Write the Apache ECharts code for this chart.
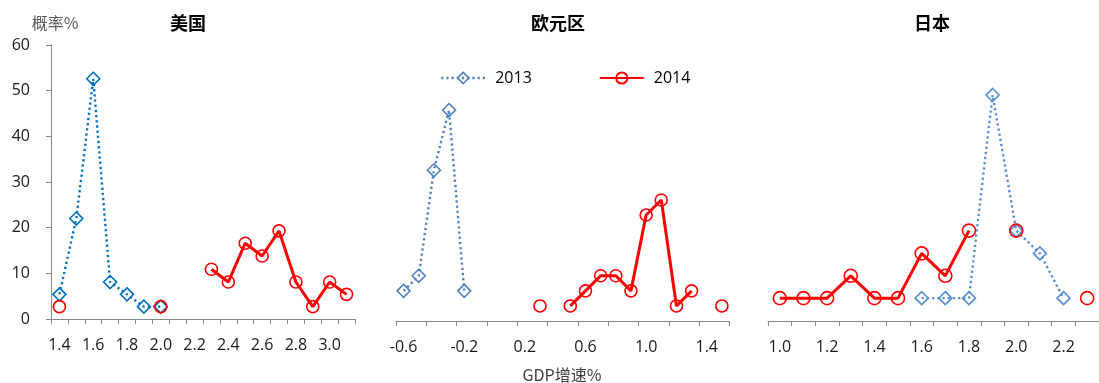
<!DOCTYPE html>
<html>
<head>
<meta charset="utf-8">
<script src="https://cdn.jsdelivr.net/npm/echarts@6/dist/echarts.min.js"></script>
<style>
  html, body { margin: 0; padding: 0; background: #fff; }
  #chart { width: 1099px; height: 383px; }
</style>
</head>
<body>
<div id="chart"></div>
<script>
// GDP 增速预测分布（概率%）
var usCategories = ['1.4','1.5','1.6','1.7','1.8','1.9','2.0','2.1','2.2','2.3','2.4','2.5','2.6','2.7','2.8','2.9','3.0','3.1'];
var us2013 = [5.4, 22.0, 52.6, 8.1, 5.4, 2.7, 2.7, null, null, null, null, null, null, null, null, null, null, null];
var us2014 = [2.7, null, null, null, null, null, 2.7, null, null, 10.9, 8.1, 16.6, 13.8, 19.3, 8.1, 2.7, 8.1, 5.4];

var euCategories = ['-0.6','-0.5','-0.4','-0.3','-0.2','-0.1','0.0','0.1','0.2','0.3','0.4','0.5','0.6','0.7','0.8','0.9','1.0','1.1','1.2','1.3','1.4','1.5'];
var eu2013 = [6.6, 9.9, 33.0, 46.2, 6.6, null, null, null, null, null, null, null, null, null, null, null, null, null, null, null, null, null];
var eu2014 = [null, null, null, null, null, null, null, null, null, 3.3, null, 3.3, 6.6, 9.9, 9.9, 6.6, 23.2, 26.5, 3.3, 6.6, null, 3.3];

var jpCategories = ['1.0','1.1','1.2','1.3','1.4','1.5','1.6','1.7','1.8','1.9','2.0','2.1','2.2','2.3'];
var jp2013 = [null, null, null, null, null, null, 5.0, 5.0, 5.0, 49.5, 19.8, 14.8, 5.0, null];
var jp2014 = [5.0, 5.0, 5.0, 9.9, 5.0, 5.0, 14.8, 9.9, 19.8, null, 19.8, null, null, 5.0];

var yTicks = [0, 10, 20, 30, 40, 50, 60];

var RED = '#FF0000';
var FONT = '"Open Sans", "Noto Sans CJK SC", sans-serif';
var CJK = '"Noto Sans CJK SC", sans-serif';
var AXIS_GRAY = '#868686';
var DOTS = [2.2, 3];

function xAxisFor(gridIndex, cats, labelInterval, tickInterval) {
  return {
    type: 'category', gridIndex: gridIndex, data: cats, boundaryGap: true,
    axisLine: { show: true, lineStyle: { color: AXIS_GRAY, width: 1 } },
    axisTick: { show: true, interval: tickInterval, length: 5, lineStyle: { color: AXIS_GRAY } },
    axisLabel: { interval: labelInterval, margin: 18, fontFamily: FONT, fontSize: 16, color: '#1a1a1a' },
    splitLine: { show: false }
  };
}

function yAxisFor(gridIndex, visible) {
  return {
    type: 'value', gridIndex: gridIndex, min: yTicks[0], max: yTicks[yTicks.length - 1], interval: 10,
    axisLine: { show: visible, lineStyle: { color: AXIS_GRAY, width: 1 } },
    axisTick: { show: visible, length: 5, lineStyle: { color: AXIS_GRAY } },
    axisLabel: { show: visible, margin: 21, fontFamily: FONT, fontSize: 16, color: '#1a1a1a' },
    splitLine: { show: false }
  };
}

function s2013(idx, data, color) {
  return {
    name: '2013', type: 'line', xAxisIndex: idx, yAxisIndex: idx, data: data,
    showAllSymbol: true, symbol: 'diamond', symbolSize: 13,
    itemStyle: { color: 'rgba(0,0,0,0)', borderColor: color, borderWidth: 1.6 },
    lineStyle: { color: color, width: 2.4, type: DOTS },
    connectNulls: false, z: 2
  };
}

function s2014(idx, data, size) {
  return {
    name: '2014', type: 'line', xAxisIndex: idx, yAxisIndex: idx, data: data,
    showAllSymbol: true, symbol: 'circle', symbolSize: size,
    itemStyle: { color: 'rgba(0,0,0,0)', borderColor: RED, borderWidth: 1.6 },
    lineStyle: { color: RED, width: 3 },
    connectNulls: false, z: 3
  };
}

function label(text, x, y, font, fill) {
  return {
    type: 'text', x: x, y: y,
    style: { text: text, font: font, fill: fill, align: 'center', verticalAlign: 'middle', textAlign: 'center', textVerticalAlign: 'middle' }
  };
}

var chart = echarts.init(document.getElementById('chart'));
chart.setOption({
  animation: false,
  backgroundColor: '#fff',
  grid: [
    { left: 51, top: 45, width: 304, height: 274 },
    { left: 396, top: 47, width: 333.5, height: 274 },
    { left: 768, top: 47, width: 334, height: 274 }
  ],
  xAxis: [
    xAxisFor(0, usCategories, 1, 0),
    xAxisFor(1, euCategories, 3, 1),
    xAxisFor(2, jpCategories, 1, 0)
  ],
  yAxis: [yAxisFor(0, true), yAxisFor(1, false), yAxisFor(2, false)],
  legend: {
    left: 440, top: 70, padding: 0, itemWidth: 44, itemHeight: 14, itemGap: 67,
    textStyle: { fontFamily: FONT, fontSize: 16, color: '#000', padding: [0, 0, 0, 5] },
    data: [
      { name: '2013', itemStyle: { color: 'rgba(0,0,0,0)', borderColor: '#4F81BD', borderWidth: 1.6 },
        lineStyle: { color: '#4F81BD', width: 2.4, type: DOTS } },
      { name: '2014' }
    ]
  },
  graphic: [
    label('美国', 188, 23, 'bold 18px ' + CJK, '#000'),
    label('欧元区', 558, 23, 'bold 18px ' + CJK, '#000'),
    label('日本', 932, 23, 'bold 18px ' + CJK, '#000'),
    label('概率%', 55, 23, '16px ' + CJK, '#595959'),
    label('GDP增速%', 562, 375, '16px ' + CJK, '#404040')
  ],
  series: [
    s2013(0, us2013, '#0070C0'),
    s2014(0, us2014, 12),
    s2013(1, eu2013, '#4F81BD'),
    s2014(1, eu2014, 12),
    s2013(2, jp2013, '#558ED5'),
    s2014(2, jp2014, 13)
  ]
});
</script>
</body>
</html>
